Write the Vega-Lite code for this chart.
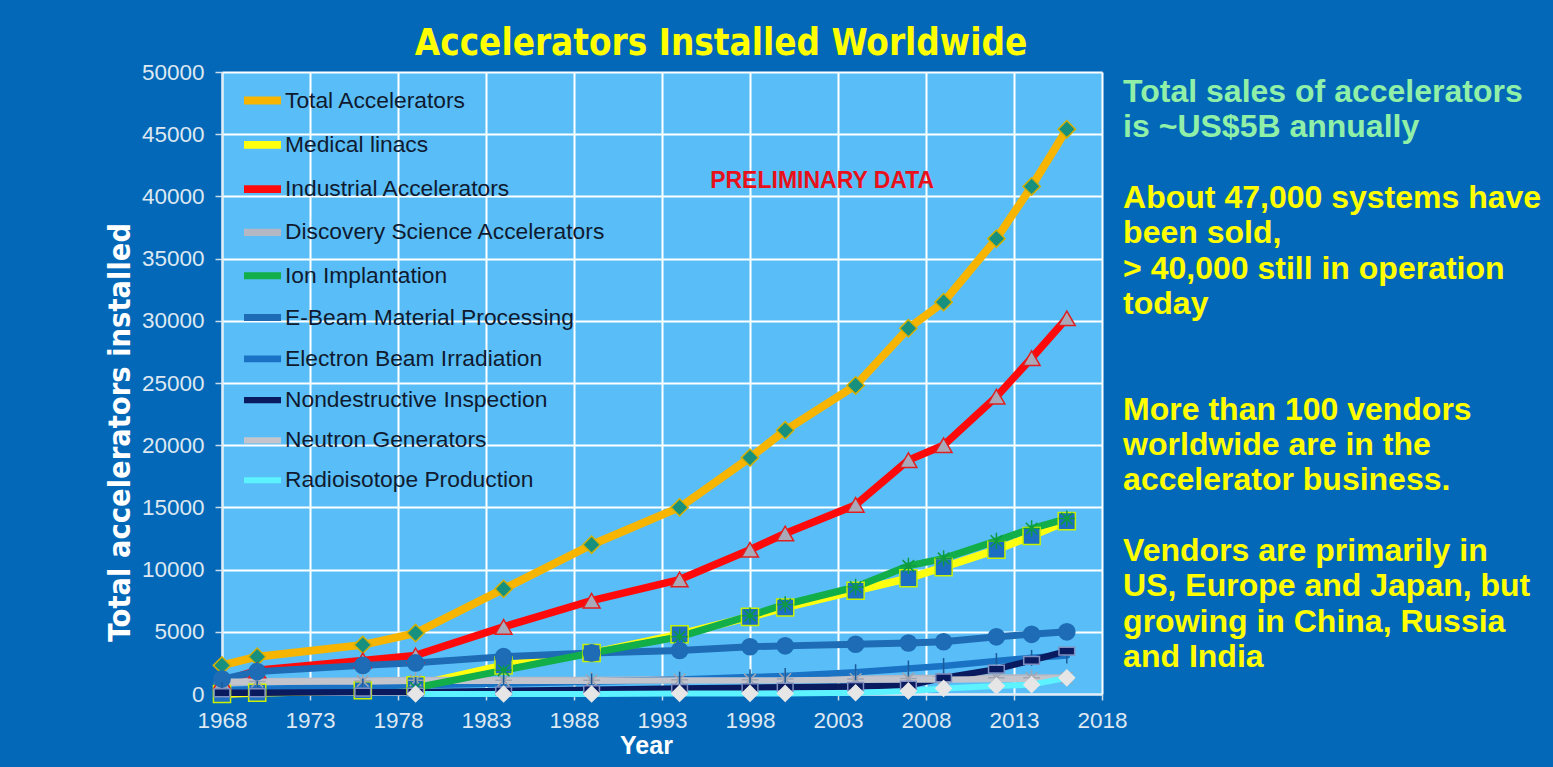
{
  "$schema": "https://vega.github.io/schema/vega-lite/v6.json",
  "width": 880,
  "height": 622,
  "autosize": {"type": "none"},
  "padding": {"left": 222, "top": 72, "right": 451, "bottom": 73},
  "background": "#0468B8",
  "title": {
    "text": "Accelerators Installed Worldwide",
    "color": "#FFFF00",
    "font": "Liberation Sans Narrow, DejaVu Sans Condensed, sans-serif",
    "fontSize": 36.5,
    "fontWeight": "bold",
    "anchor": "middle",
    "frame": "group",
    "dx": 59,
    "baseline": "bottom",
    "offset": -38
  },
  "config": {
    "view": {"fill": "#59BEF7", "stroke": null},
    "font": "Liberation Sans"
  },
  "resolve": {"scale": {"y": "independent", "fill": "independent"}},
  "layer": [
    {
      "data": {
        "values": [
          {"year": 1968, "Total Accelerators": 2300, "Medical linacs": 0, "Industrial Accelerators": 1000, "Discovery Science Accelerators": 900, "Ion Implantation": null, "E-Beam Material Processing": 1200, "Electron Beam Irradiation": 300, "Nondestructive Inspection": 100, "Neutron Generators": 1000, "Radioisotope Production": null},
          {"year": 1970, "Total Accelerators": 3000, "Medical linacs": 100, "Industrial Accelerators": 1900, "Discovery Science Accelerators": 1000, "Ion Implantation": null, "E-Beam Material Processing": 1800, "Electron Beam Irradiation": 400, "Nondestructive Inspection": 100, "Neutron Generators": 1000, "Radioisotope Production": null},
          {"year": 1976, "Total Accelerators": 3950, "Medical linacs": 300, "Industrial Accelerators": 2700, "Discovery Science Accelerators": 1050, "Ion Implantation": null, "E-Beam Material Processing": 2300, "Electron Beam Irradiation": 600, "Nondestructive Inspection": 150, "Neutron Generators": 1000, "Radioisotope Production": null},
          {"year": 1979, "Total Accelerators": 4900, "Medical linacs": 700, "Industrial Accelerators": 3100, "Discovery Science Accelerators": 1100, "Ion Implantation": 500, "E-Beam Material Processing": 2500, "Electron Beam Irradiation": 700, "Nondestructive Inspection": 150, "Neutron Generators": 1050, "Radioisotope Production": 0},
          {"year": 1984, "Total Accelerators": 8450, "Medical linacs": 2300, "Industrial Accelerators": 5400, "Discovery Science Accelerators": 1100, "Ion Implantation": 1900, "E-Beam Material Processing": 3000, "Electron Beam Irradiation": 850, "Nondestructive Inspection": 250, "Neutron Generators": 1050, "Radioisotope Production": 0},
          {"year": 1989, "Total Accelerators": 12000, "Medical linacs": 3300, "Industrial Accelerators": 7500, "Discovery Science Accelerators": 1100, "Ion Implantation": 3300, "E-Beam Material Processing": 3300, "Electron Beam Irradiation": 1000, "Nondestructive Inspection": 350, "Neutron Generators": 1050, "Radioisotope Production": 0},
          {"year": 1994, "Total Accelerators": 15000, "Medical linacs": 4800, "Industrial Accelerators": 9200, "Discovery Science Accelerators": 1150, "Ion Implantation": 4600, "E-Beam Material Processing": 3500, "Electron Beam Irradiation": 1150, "Nondestructive Inspection": 450, "Neutron Generators": 1100, "Radioisotope Production": 50},
          {"year": 1998, "Total Accelerators": 19000, "Medical linacs": 6200, "Industrial Accelerators": 11600, "Discovery Science Accelerators": 1150, "Ion Implantation": 6300, "E-Beam Material Processing": 3800, "Electron Beam Irradiation": 1350, "Nondestructive Inspection": 500, "Neutron Generators": 1100, "Radioisotope Production": 50},
          {"year": 2000, "Total Accelerators": 21200, "Medical linacs": 6950, "Industrial Accelerators": 12900, "Discovery Science Accelerators": 1200, "Ion Implantation": 7200, "E-Beam Material Processing": 3870, "Electron Beam Irradiation": 1450, "Nondestructive Inspection": 550, "Neutron Generators": 1100, "Radioisotope Production": 50},
          {"year": 2004, "Total Accelerators": 24800, "Medical linacs": 8300, "Industrial Accelerators": 15200, "Discovery Science Accelerators": 1200, "Ion Implantation": 8600, "E-Beam Material Processing": 4000, "Electron Beam Irradiation": 1750, "Nondestructive Inspection": 600, "Neutron Generators": 1150, "Radioisotope Production": 100},
          {"year": 2007, "Total Accelerators": 29400, "Medical linacs": 9300, "Industrial Accelerators": 18800, "Discovery Science Accelerators": 1250, "Ion Implantation": 10300, "E-Beam Material Processing": 4100, "Electron Beam Irradiation": 2050, "Nondestructive Inspection": 700, "Neutron Generators": 1150, "Radioisotope Production": 250},
          {"year": 2009, "Total Accelerators": 31500, "Medical linacs": 10200, "Industrial Accelerators": 20000, "Discovery Science Accelerators": 1250, "Ion Implantation": 10900, "E-Beam Material Processing": 4200, "Electron Beam Irradiation": 2250, "Nondestructive Inspection": 1300, "Neutron Generators": 1150, "Radioisotope Production": 450},
          {"year": 2012, "Total Accelerators": 36600, "Medical linacs": 11600, "Industrial Accelerators": 23900, "Discovery Science Accelerators": 1300, "Ion Implantation": 12300, "E-Beam Material Processing": 4600, "Electron Beam Irradiation": 2650, "Nondestructive Inspection": 2000, "Neutron Generators": 1200, "Radioisotope Production": 650},
          {"year": 2014, "Total Accelerators": 40800, "Medical linacs": 12700, "Industrial Accelerators": 27000, "Discovery Science Accelerators": 1300, "Ion Implantation": 13300, "E-Beam Material Processing": 4800, "Electron Beam Irradiation": 2900, "Nondestructive Inspection": 2700, "Neutron Generators": 1200, "Radioisotope Production": 750},
          {"year": 2016, "Total Accelerators": 45400, "Medical linacs": 13900, "Industrial Accelerators": 30200, "Discovery Science Accelerators": 1300, "Ion Implantation": 14100, "E-Beam Material Processing": 5000, "Electron Beam Irradiation": 3100, "Nondestructive Inspection": 3450, "Neutron Generators": 1250, "Radioisotope Production": 1300}
        ]
      },
      "transform": [
        {"fold": ["Total Accelerators", "Medical linacs", "Industrial Accelerators", "Discovery Science Accelerators", "Ion Implantation", "E-Beam Material Processing", "Electron Beam Irradiation", "Nondestructive Inspection", "Neutron Generators", "Radioisotope Production"], "as": ["series", "value"]},
        {"filter": "isValid(datum.value)"}
      ],
      "layer": [
        {
          "mark": {"type": "line", "strokeJoin": "round", "strokeCap": "round"},
          "encoding": {
            "x": {
              "field": "year", "type": "quantitative",
              "scale": {"domain": [1968, 2018], "nice": false, "zero": false},
              "axis": {
                "values": [1968, 1973, 1978, 1983, 1988, 1993, 1998, 2003, 2008, 2013, 2018],
                "format": "d", "title": "Year",
                "titleFontSize": 25, "titleColor": "#FFFFFF", "titleFontWeight": "bold", "titlePadding": 2, "titleX": 424,
                "labelFontSize": 22.5, "labelColor": "#DDE8F2", "labelPadding": 9, "labelFlush": false, "labelOverlap": false,
                "tickSize": 6, "tickColor": "#C8DCEC", "tickWidth": 1.5,
                "domainColor": "#E0ECF6", "domainWidth": 2,
                "gridColor": "#FFFFFF", "gridWidth": 2, "gridOpacity": 1
              }
            },
            "y": {
              "field": "value", "type": "quantitative",
              "scale": {"domain": [0, 50000], "nice": false},
              "axis": {
                "values": [0, 5000, 10000, 15000, 20000, 25000, 30000, 35000, 40000, 45000, 50000],
                "format": "d", "title": "Total accelerators installed",
                "titleFont": "Liberation Sans Narrow, DejaVu Sans Condensed, sans-serif",
                "titleFontSize": 30.5, "titleColor": "#FFFFFF", "titleFontWeight": "bold", "titlePadding": 6, "titleY": 360,
                "labelFontSize": 22.5, "labelColor": "#DDE8F2", "labelPadding": 11,
                "tickSize": 7, "tickColor": "#C8DCEC", "tickWidth": 1.5,
                "domainColor": "#E0ECF6", "domainWidth": 2,
                "gridColor": "#FFFFFF", "gridWidth": 2, "gridOpacity": 1
              }
            },
            "color": {
              "field": "series", "type": "nominal",
              "scale": {
                "domain": ["Total Accelerators", "Medical linacs", "Industrial Accelerators", "Discovery Science Accelerators", "Ion Implantation", "E-Beam Material Processing", "Electron Beam Irradiation", "Nondestructive Inspection", "Neutron Generators", "Radioisotope Production"],
                "range": ["#F7B500", "#FFFF10", "#FF0A0A", "#B4B8C4", "#12AE4A", "#1E6CB6", "#1A72C4", "#0A1A5E", "#C4C4CC", "#5CF2FF"]
              },
              "legend": {
                "orient": "none", "legendX": 18, "legendY": 6, "title": null, "padding": 0,
                "symbolType": "stroke", "symbolSize": 1369, "symbolStrokeWidth": 7,
                "labelFontSize": 22.8, "labelColor": "#0F1A30", "labelFont": "Liberation Sans",
                "rowPadding": 5.3, "labelOffset": 0, "labelLimit": 400
              }
            },
            "strokeWidth": {
              "field": "series", "type": "nominal",
              "scale": {
                "domain": ["Total Accelerators", "Medical linacs", "Industrial Accelerators", "Discovery Science Accelerators", "Ion Implantation", "E-Beam Material Processing", "Electron Beam Irradiation", "Nondestructive Inspection", "Neutron Generators", "Radioisotope Production"],
                "range": [8, 6, 7, 6, 7, 9, 7, 7, 8, 6]
              },
              "legend": null
            }
          }
        },
        {
          "transform": [{"filter": "datum.series !== 'Neutron Generators'"}],
          "mark": {"type": "point", "filled": true, "opacity": 1, "strokeWidth": 1.5},
          "encoding": {
            "x": {"field": "year", "type": "quantitative", "scale": {"domain": [1968, 2018], "nice": false, "zero": false}},
            "y": {"field": "value", "type": "quantitative", "scale": {"domain": [0, 50000], "nice": false}},
            "shape": {
              "field": "series", "type": "nominal",
              "scale": {
                "domain": ["Total Accelerators", "Medical linacs", "Industrial Accelerators", "Discovery Science Accelerators", "Ion Implantation", "E-Beam Material Processing", "Electron Beam Irradiation", "Nondestructive Inspection", "Radioisotope Production"],
                "range": ["diamond", "square", "triangle-up", "M-1,0L1,0M0,-1L0,1M-0.7,-0.7L0.7,0.7M-0.7,0.7L0.7,-0.7", "M-1,0L1,0M0,-1L0,1M-0.7,-0.7L0.7,0.7M-0.7,0.7L0.7,-0.7", "circle", "M0,-1L0,1", "M-1,-0.5L1,-0.5L1,0.5L-1,0.5Z", "diamond"]
              },
              "legend": null
            },
            "fill": {
              "field": "series", "type": "nominal",
              "scale": {
                "domain": ["Total Accelerators", "Medical linacs", "Industrial Accelerators", "Discovery Science Accelerators", "Ion Implantation", "E-Beam Material Processing", "Electron Beam Irradiation", "Nondestructive Inspection", "Radioisotope Production"],
                "range": ["#17907E", "#1B6EC2", "#A9A9BA", "#B4B8C4", "#12AE4A", "#1E6CB6", "#1A5A9A", "#0A1A5E", "#E6E6E6"]
              },
              "legend": null
            },
            "stroke": {
              "field": "series", "type": "nominal",
              "scale": {
                "domain": ["Total Accelerators", "Medical linacs", "Industrial Accelerators", "Discovery Science Accelerators", "Ion Implantation", "E-Beam Material Processing", "Electron Beam Irradiation", "Nondestructive Inspection", "Radioisotope Production"],
                "range": ["#D6B000", "#C8F000", "#E02020", "#A0A4B0", "#0E9A40", "#1E6CB6", "#1A5A9A", "#8090C0", "#E6E6E6"]
              },
              "legend": null
            },
            "size": {
              "field": "series", "type": "nominal",
              "scale": {
                "domain": ["Total Accelerators", "Medical linacs", "Industrial Accelerators", "Discovery Science Accelerators", "Ion Implantation", "E-Beam Material Processing", "Electron Beam Irradiation", "Nondestructive Inspection", "Radioisotope Production"],
                "range": [300, 240, 260, 150, 250, 400, 200, 110, 260]
              },
              "legend": null
            }
          }
        },
        {
          "data": {"values": [{"note": "PRELIMINARY DATA"}]},
          "mark": {"type": "text", "color": "#E8101A", "fontSize": 23, "fontWeight": "bold", "font": "Liberation Sans", "align": "center", "baseline": "middle"},
          "encoding": {
            "x": {"datum": 2002.1, "type": "quantitative", "scale": {"domain": [1968, 2018], "nice": false, "zero": false}},
            "y": {"datum": 41200, "type": "quantitative", "scale": {"domain": [0, 50000], "nice": false}},
            "text": {"field": "note"}
          }
        }
      ]
    },
    {
      "data": {
        "values": [
          {"line": 0, "para": "sales", "text": "Total sales of accelerators"},
          {"line": 1, "para": "sales", "text": "is ~US$5B annually"},
          {"line": 3, "para": "facts", "text": "About 47,000 systems have"},
          {"line": 4, "para": "facts", "text": "been sold,"},
          {"line": 5, "para": "facts", "text": "> 40,000 still in operation"},
          {"line": 6, "para": "facts", "text": "today"},
          {"line": 9, "para": "facts", "text": "More than 100 vendors"},
          {"line": 10, "para": "facts", "text": "worldwide are in the"},
          {"line": 11, "para": "facts", "text": "accelerator business."},
          {"line": 13, "para": "facts", "text": "Vendors are primarily in"},
          {"line": 14, "para": "facts", "text": "US, Europe and Japan, but"},
          {"line": 15, "para": "facts", "text": "growing in China, Russia"},
          {"line": 16, "para": "facts", "text": "and India"}
        ]
      },
      "mark": {"type": "text", "fontSize": 32, "fontWeight": "bold", "font": "Liberation Sans", "align": "left", "baseline": "middle"},
      "encoding": {
        "x": {"datum": 2019.2, "type": "quantitative", "scale": {"domain": [1968, 2018], "nice": false, "zero": false}},
        "y": {"field": "line", "type": "quantitative", "scale": {"domain": [-0.566, 17.05], "reverse": true, "nice": false, "zero": false}, "axis": null},
        "text": {"field": "text"},
        "fill": {"field": "para", "type": "nominal", "scale": {"domain": ["sales", "facts"], "range": ["#90F0A8", "#FFFF00"]}, "legend": null}
      }
    }
  ]
}
